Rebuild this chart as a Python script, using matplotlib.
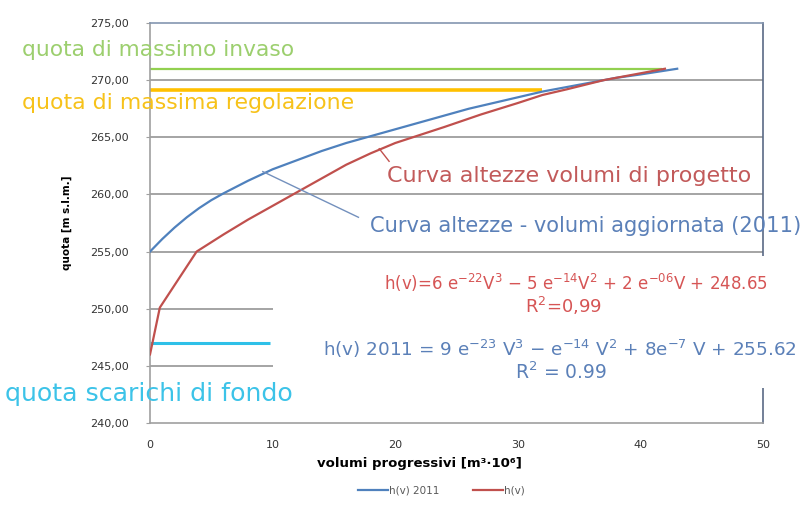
import numpy as np
import matplotlib
matplotlib.use("Agg")
import matplotlib.pyplot as plt
from matplotlib.patches import Rectangle

plt.rcParams["font.family"] = ["DejaVu Sans"]
plt.rcParams["mathtext.default"] = "regular"

# curva altezze-volumi aggiornata (2011)
v_2011 = [0, 1, 2, 3, 4, 5, 6, 8, 10, 12, 14, 16, 18, 20, 22, 24, 26, 28, 30, 32, 34, 36, 38, 40, 43]
h_2011 = [255.0, 256.1, 257.1, 258.0, 258.8, 259.5, 260.1, 261.2, 262.2, 263.0, 263.8, 264.5, 265.1,
          265.7, 266.3, 266.9, 267.5, 268.0, 268.5, 269.0, 269.4, 269.8, 270.2, 270.5, 271.0]

# curva altezze-volumi di progetto
v_prog = [0, 0.8, 3.8, 6, 8, 10, 12, 14, 16, 18, 20, 22, 24, 27, 30, 32, 34, 37, 40, 42]
h_prog = [246.0, 250.1, 255.0, 256.5, 257.8, 259.0, 260.2, 261.4, 262.6, 263.6, 264.5, 265.2,
          265.9, 267.0, 268.0, 268.7, 269.2, 270.0, 270.6, 271.0]

# quote caratteristiche: (quota, volume finale)
q_max_invaso = 271.0
v_max_invaso = 41.8
q_max_regolazione = 269.1
v_max_regolazione = 32.0
q_scarichi = 247.0
v_scarichi = 9.8

y_ticks = [240, 245, 250, 255, 260, 265, 270, 275]
x_ticks = [0, 10, 20, 30, 40, 50]

blue = "#4f81bd"
red = "#c0504d"
green = "#92d050"
yellow = "#ffc000"
cyan = "#2ec0e8"

fig = plt.figure(figsize=(8.07, 5.05), dpi=100)
ax = fig.add_axes([0.1859, 0.1624, 0.7596, 0.792])

ax.set_xlim(0, 50)
ax.set_ylim(240, 275)
ax.set_yticks(y_ticks)
ax.set_xticks(x_ticks)
ax.set_yticklabels([f"{t:.2f}".replace(".", ",") for t in y_ticks])
ax.tick_params(axis="both", labelsize=8, labelcolor="#333333", color="#a0a0a0", length=3)
ax.tick_params(axis="y", pad=12.5)
ax.tick_params(axis="x", length=0, pad=12)

for y in y_ticks[1:-1]:
    ax.axhline(y, color="#8c8c8c", lw=1.1, zorder=1)

ax.spines["left"].set_color("#a0a0a0")
ax.spines["bottom"].set_color("#a0a0a0")
ax.spines["top"].set_color("#8496b0")
ax.spines["right"].set_color("#5a6a85")
for s in ax.spines.values():
    s.set_linewidth(1.2)

# white box behind the equations
ax.add_patch(Rectangle((10, 243.1), 45, 11.5, facecolor="white", edgecolor="none",
                       zorder=3, clip_on=False))

ax.hlines(q_max_invaso, 0, v_max_invaso, color=green, lw=1.6, zorder=2)
ax.hlines(q_max_regolazione, 0, v_max_regolazione, color=yellow, lw=2.6, zorder=2)
ax.hlines(q_scarichi, 0, v_scarichi, color=cyan, lw=2.2, zorder=2)

ax.plot(v_2011, h_2011, color=blue, lw=1.6, label="h(v) 2011", zorder=4)
ax.plot(v_prog, h_prog, color=red, lw=1.6, label="h(v)", zorder=4)

# leader lines
ax.plot([9.2, 17.0], [262.0, 258.0], color="#7390bd", lw=1.0, zorder=4)
ax.plot([18.7, 19.5], [264.0, 262.9], color=red, lw=1.0, zorder=4)

ax.text(-10.44, 272.64, "quota di massimo invaso", color="#9ccf6e", fontsize=15.7,
        ha="left", va="center", clip_on=False, zorder=5)
ax.text(-10.44, 268.0, "quota di massima regolazione", color="#f7c21a", fontsize=15.8,
        ha="left", va="center", clip_on=False, zorder=5)
ax.text(-11.83, 242.54, "quota scarichi di fondo", color="#3cc3e8", fontsize=18.2,
        ha="left", va="center", clip_on=False, zorder=5)
ax.text(19.33, 261.6, "Curva altezze volumi di progetto", color="#c25a5a", fontsize=16,
        ha="left", va="center", clip_on=False, zorder=5)
ax.text(17.94, 257.24, "Curva altezze - volumi aggiornata (2011)", color="#5b80b8", fontsize=15.1,
        ha="left", va="center", clip_on=False, zorder=5)

ax.text(34.75, 252.25, r"h(v)=6 e$^{-22}$V$^{3}$ − 5 e$^{-14}$V$^{2}$ + 2 e$^{-06}$V + 248.65",
        color="#d65555", fontsize=12, ha="center", va="center", clip_on=False, zorder=5)
ax.text(33.7, 250.24, r"R$^{2}$=0,99", color="#d65555", fontsize=13,
        ha="center", va="center", clip_on=False, zorder=5)
ax.text(33.4, 246.48, r"h(v) 2011 = 9 e$^{-23}$ V$^{3}$ − e$^{-14}$ V$^{2}$ + 8e$^{-7}$ V + 255.62",
        color="#5b80b8", fontsize=13.2, ha="center", va="center", clip_on=False, zorder=5)
ax.text(33.5, 244.47, r"R$^{2}$ = 0.99", color="#5b80b8", fontsize=13.5,
        ha="center", va="center", clip_on=False, zorder=5)

ax.set_xlabel("volumi progressivi [m³·10⁶]", fontsize=9.5, fontweight="bold", labelpad=5)
ax.xaxis.set_label_coords(0.44, -0.085)
ax.set_ylabel("quota [m s.l.m.]", fontsize=7.5, fontweight="bold", labelpad=13)

leg = ax.legend(loc="upper center", bbox_to_anchor=(0.547, 0.057), bbox_transform=fig.transFigure,
                ncol=2, frameon=False, fontsize=7.5, handlelength=2.9, columnspacing=3.2,
                handletextpad=0.1)
for t in leg.get_texts():
    t.set_color("#595959")

fig.savefig("out.png", dpi=100)
